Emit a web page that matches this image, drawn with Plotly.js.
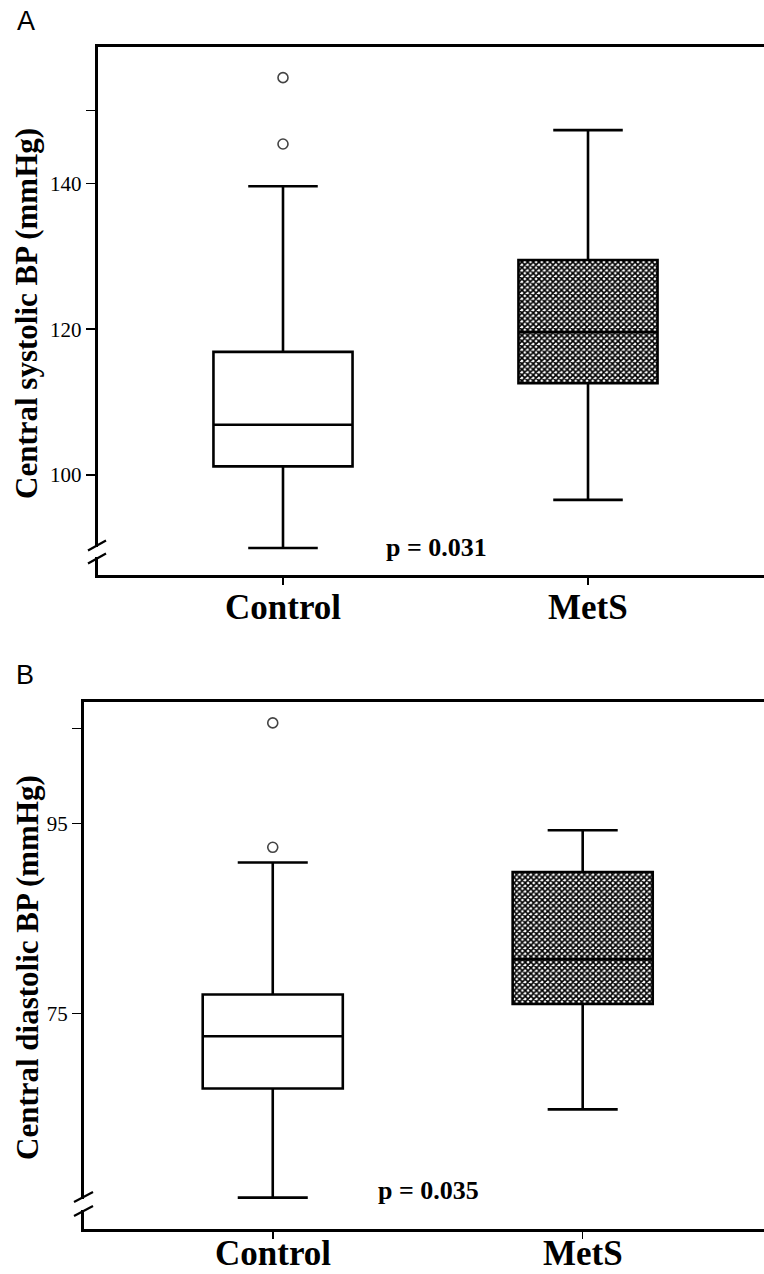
<!DOCTYPE html>
<html>
<head>
<meta charset="utf-8">
<script src="https://cdn.plot.ly/plotly-3.0.1.min.js"></script>
<style>html,body{margin:0;padding:0;background:#fff;}#chart{width:764px;height:1274px;}</style>
</head>
<body>
<div id="chart"></div>
<script>
// ---- data ----
const groups = ['Control', 'MetS'];

// Panel A: central systolic BP (mmHg)
const sysQ1 = [101.2, 112.6];
const sysMedian = [106.9, 119.6];
const sysQ3 = [116.9, 129.5];
const sysLower = [90.0, 96.6];
const sysUpper = [139.6, 147.3];
const sysOutliersControl = [154.5, 145.4];
const sysTicks = [100, 120, 140, 150];
const sysTickText = ['100', '120', '140', ''];
const sysP = 'p = 0.031';

// Panel B: central diastolic BP (mmHg)
const diaQ1 = [67.1, 76.0];
const diaMedian = [72.6, 80.7];
const diaQ3 = [77.0, 89.9];
const diaLower = [55.6, 64.9];
const diaUpper = [90.9, 94.3];
const diaOutliersControl = [105.6, 92.5];
const diaTicks = [75, 95, 105];
const diaTickText = ['75', '95', ''];
const diaP = 'p = 0.035';

// ---- helpers ----
const W = 764, H = 1274;
const px = v => v / W;
const py = v => 1 - v / H;
const serif = 'Liberation Serif, Times New Roman, serif';

function boxTrace(i, q1, med, q3, lo, up, xa, ya, width) {
  return {
    type: 'box', x: [groups[i]], q1: [q1[i]], median: [med[i]], q3: [q3[i]],
    lowerfence: [lo[i]], upperfence: [up[i]],
    width: width, whiskerwidth: 0.5,
    fillcolor: 'rgba(0,0,0,0)',
    line: {color: '#000', width: 2.6},
    boxpoints: false, hoverinfo: 'skip',
    xaxis: xa, yaxis: ya
  };
}
function hatchTrace(i, q1, q3, xa, ya, width) {
  return {
    type: 'bar', x: [groups[i]], y: [q3[i] - q1[i]], base: [q1[i]],
    width: width,
    marker: {color: '#fff', line: {width: 0},
      pattern: {shape: 'x', size: 4, solidity: 0.65, fgcolor: '#000', bgcolor: '#fff', fillmode: 'replace'}},
    hoverinfo: 'skip', xaxis: xa, yaxis: ya
  };
}
function outlierTrace(vals, xa, ya) {
  return {
    type: 'scatter', mode: 'markers', x: vals.map(() => groups[0]), y: vals,
    marker: {symbol: 'circle-open', size: 10, color: '#444', line: {width: 1.6}},
    hoverinfo: 'skip', xaxis: xa, yaxis: ya
  };
}
function groupLabels(xa, yPx, anchor) {
  return groups.map(g => ({
    text: g, xref: xa, yref: 'paper', x: g, y: py(yPx), xanchor: 'center', yanchor: anchor,
    borderpad: 0, showarrow: false, font: {family: serif, size: 35, color: '#000', weight: 'bold'}
  }));
}

const wA = 0.456, wB = 0.452;
const data = [
  hatchTrace(1, sysQ1, sysQ3, 'x', 'y', wA),
  boxTrace(0, sysQ1, sysMedian, sysQ3, sysLower, sysUpper, 'x', 'y', wA),
  boxTrace(1, sysQ1, sysMedian, sysQ3, sysLower, sysUpper, 'x', 'y', wA),
  outlierTrace(sysOutliersControl, 'x', 'y'),
  hatchTrace(1, diaQ1, diaQ3, 'x2', 'y2', wB),
  boxTrace(0, diaQ1, diaMedian, diaQ3, diaLower, diaUpper, 'x2', 'y2', wB),
  boxTrace(1, diaQ1, diaMedian, diaQ3, diaLower, diaUpper, 'x2', 'y2', wB),
  outlierTrace(diaOutliersControl, 'x2', 'y2')
];

const xBase = {
  type: 'category', categoryorder: 'array', categoryarray: groups,
  showline: true, mirror: true, linecolor: '#000', linewidth: 3,
  ticks: 'outside', ticklen: 7, tickwidth: 1.5, tickcolor: '#000',
  showticklabels: false,
  showgrid: false, zeroline: false, fixedrange: true
};
const yBase = {
  showline: true, mirror: false, linecolor: '#000', linewidth: 3,
  ticks: 'outside', ticklen: 9, tickwidth: 1.5, tickcolor: '#000',
  tickfont: {family: serif, size: 21, color: '#000'},
  showgrid: false, zeroline: false, fixedrange: true, tickmode: 'array'
};

const layout = {
  width: W, height: H,
  margin: {l: 0, r: 0, t: 0, b: 0},
  paper_bgcolor: '#fff', plot_bgcolor: '#fff',
  showlegend: false,
  bargap: 0,
  xaxis: Object.assign({}, xBase, {domain: [px(97.7), 1], anchor: 'y', range: [-0.6075, 1.577]}),
  yaxis: Object.assign({}, yBase, {domain: [py(575), py(47)], anchor: 'x', range: [86.3, 158.7],
    tickvals: sysTicks, ticktext: sysTickText}),
  xaxis2: Object.assign({}, xBase, {domain: [px(84), 1], anchor: 'y2', range: [-0.609, 1.585]}),
  yaxis2: Object.assign({}, yBase, {domain: [py(1229), py(702)], anchor: 'x2', range: [52.3, 107.8],
    tickvals: diaTicks, ticktext: diaTickText}),
  annotations: [
    {text: 'A', xref: 'paper', yref: 'paper', x: px(25.5), y: py(21), xanchor: 'center', yanchor: 'middle',
      showarrow: false, font: {family: 'Liberation Sans, Arial, sans-serif', size: 27, color: '#000'}},
    {text: 'B', xref: 'paper', yref: 'paper', x: px(24.5), y: py(675), xanchor: 'center', yanchor: 'middle',
      showarrow: false, font: {family: 'Liberation Sans, Arial, sans-serif', size: 27, color: '#000'}},
    {text: 'Central systolic BP (mmHg)', xref: 'paper', yref: 'paper', x: px(27), y: py(314),
      xanchor: 'center', yanchor: 'middle', textangle: -90, showarrow: false,
      font: {family: serif, size: 31, color: '#000', weight: 'bold'}},
    {text: 'Central diastolic BP (mmHg)', xref: 'paper', yref: 'paper', x: px(27), y: py(968),
      xanchor: 'center', yanchor: 'middle', textangle: -90, showarrow: false,
      font: {family: serif, size: 31, color: '#000', weight: 'bold'}},
    {text: sysP, xref: 'paper', yref: 'paper', x: px(436), y: py(548), xanchor: 'center', yanchor: 'middle',
      showarrow: false, font: {family: serif, size: 26, color: '#000', weight: 'bold'}},
    {text: diaP, xref: 'paper', yref: 'paper', x: px(428), y: py(1190), xanchor: 'center', yanchor: 'middle',
      showarrow: false, font: {family: serif, size: 26, color: '#000', weight: 'bold'}}
  ].concat(groupLabels('x', 607, 'middle'), groupLabels('x2', 1274, 'bottom')),
  shapes: [
    // axis break, panel A
    {type: 'rect', xref: 'paper', yref: 'paper', x0: px(94), x1: px(101.5), y0: py(557), y1: py(547),
      fillcolor: '#fff', line: {width: 0}},
    {type: 'line', xref: 'paper', yref: 'paper', x0: px(88), y0: py(550.5), x1: px(106), y1: py(540.5),
      line: {color: '#000', width: 2.2}},
    {type: 'line', xref: 'paper', yref: 'paper', x0: px(88), y0: py(563.5), x1: px(106), y1: py(553.5),
      line: {color: '#000', width: 2.2}},
    // axis break, panel B
    {type: 'rect', xref: 'paper', yref: 'paper', x0: px(80), x1: px(88), y0: py(1210), y1: py(1199),
      fillcolor: '#fff', line: {width: 0}},
    {type: 'line', xref: 'paper', yref: 'paper', x0: px(74), y0: py(1202), x1: px(93), y1: py(1192),
      line: {color: '#000', width: 2.2}},
    {type: 'line', xref: 'paper', yref: 'paper', x0: px(74), y0: py(1216), x1: px(93), y1: py(1206),
      line: {color: '#000', width: 2.2}}
  ]
};

Plotly.newPlot('chart', data, layout, {displayModeBar: false, staticPlot: true});
</script>
</body>
</html>
